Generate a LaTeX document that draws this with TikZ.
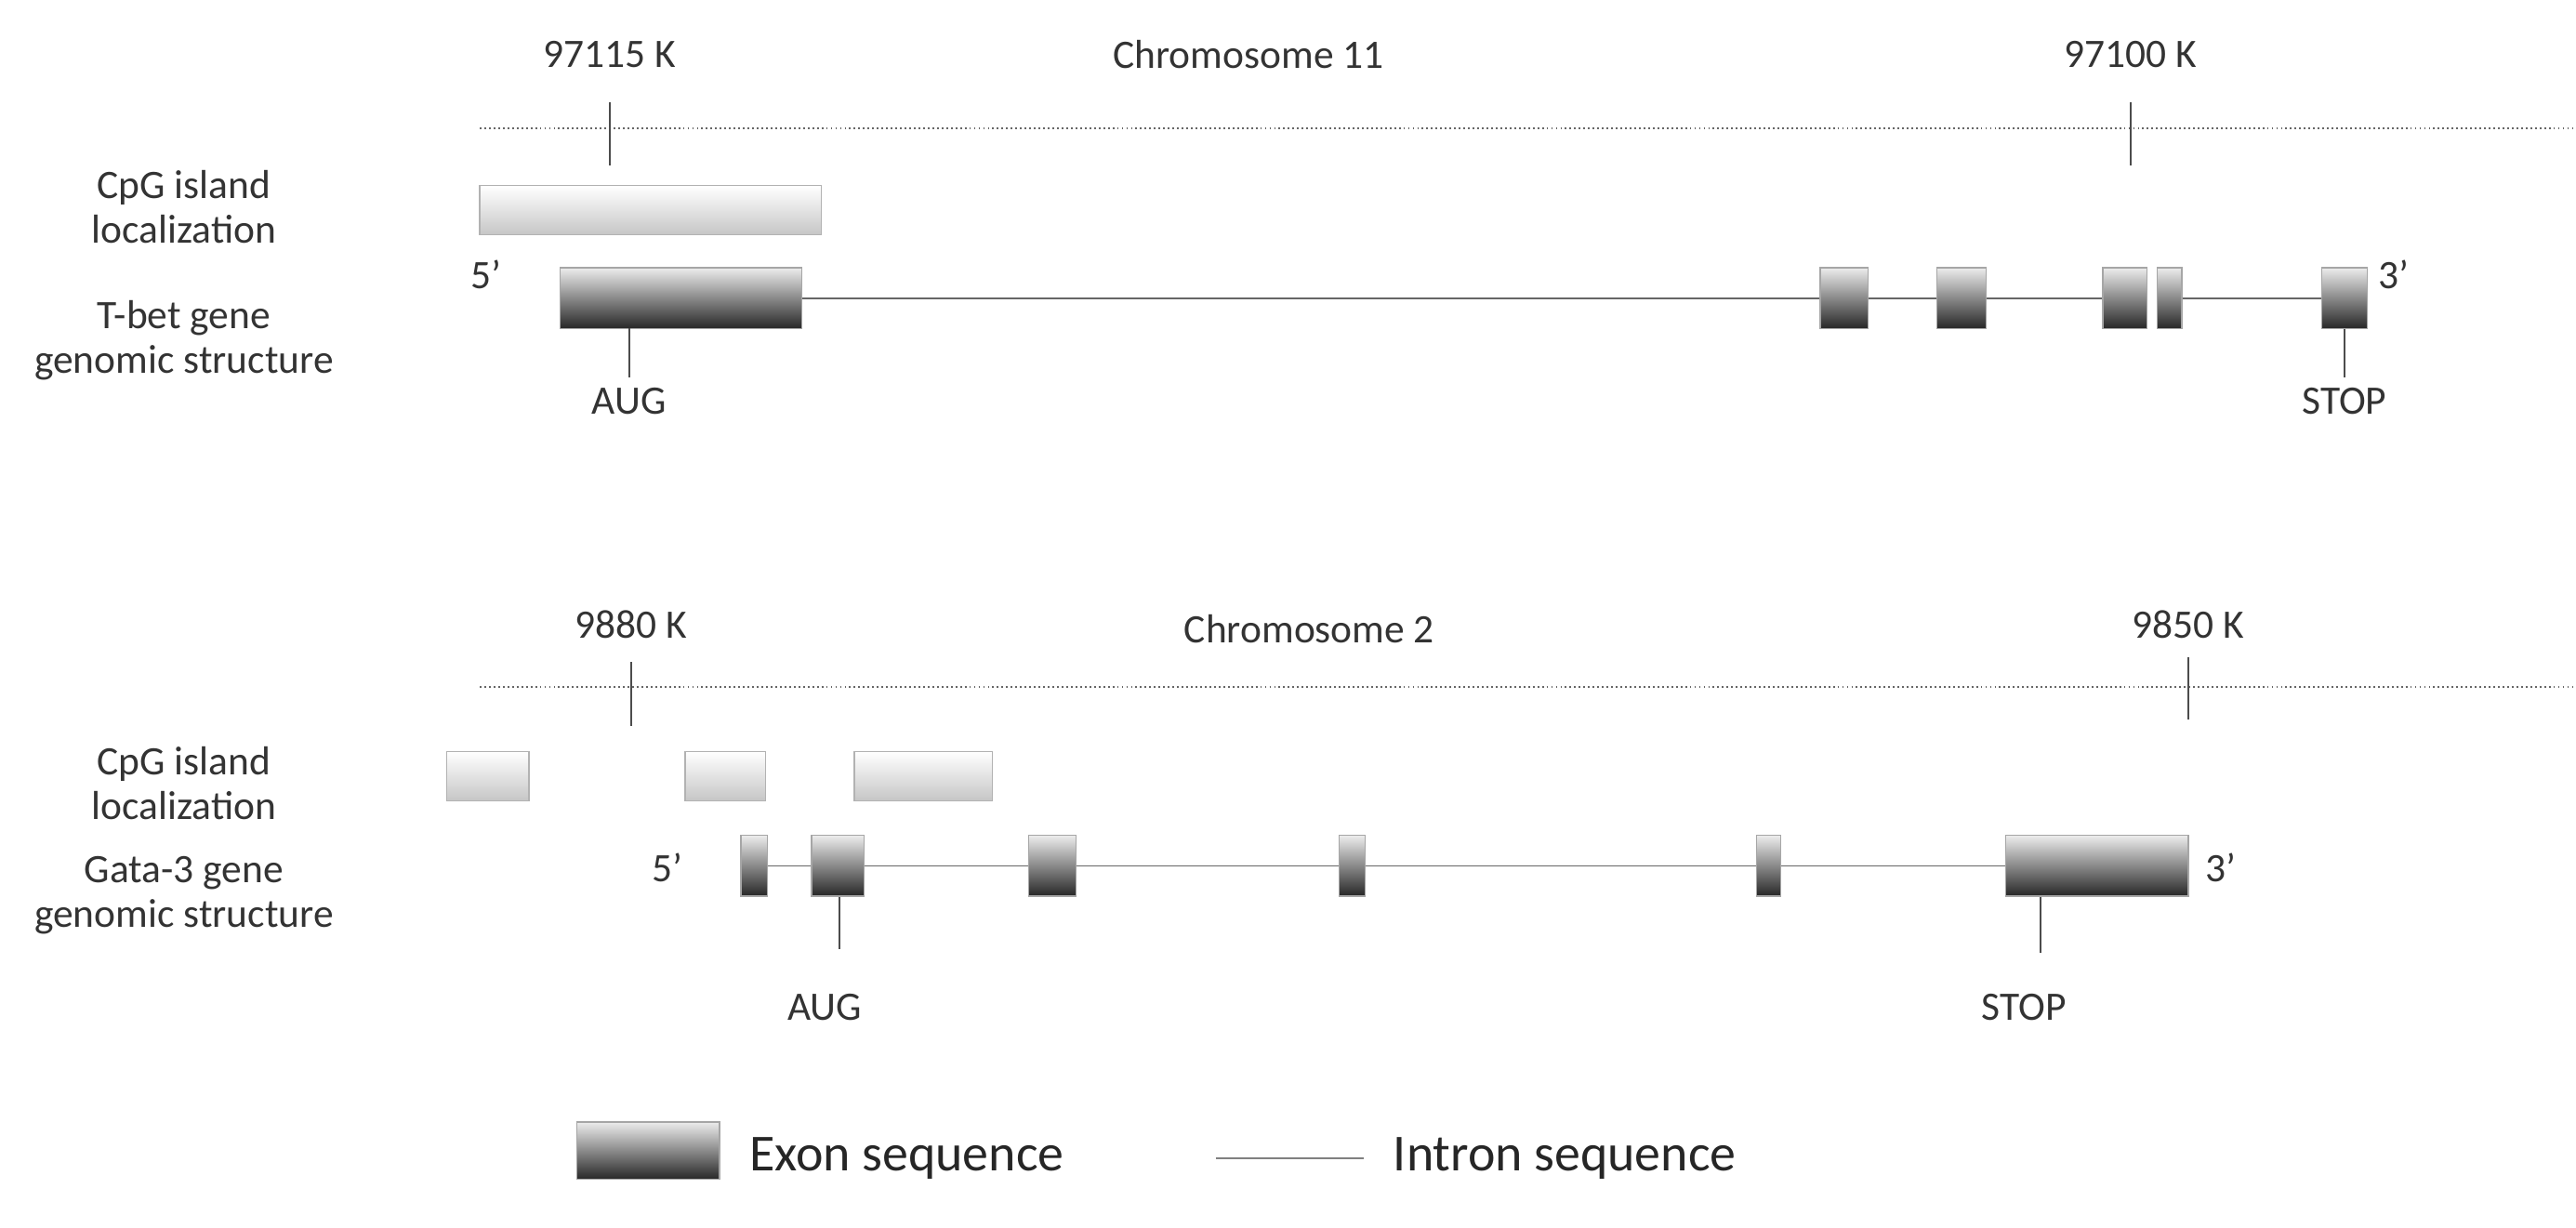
\documentclass[tikz,border=0pt]{standalone}
\usepackage{fontspec}
\setmainfont{Carlito}
\tikzset{
  exon/.style={draw=gray!70, top color=gray!15, bottom color=black!85, inner sep=0pt, minimum height=0.74cm},
  cpg/.style={draw=gray!60, top color=white, bottom color=gray!45, inner sep=0pt, minimum height=0.6cm},
  intron/.style={gray!80!black, line width=0.5pt},
  chrom/.style={densely dotted, gray!80!black, line width=0.6pt},
  tick/.style={gray!60!black, line width=0.6pt},
  lbl/.style={font=\fontsize{14}{15.5}\selectfont, text=black!80},
  side/.style={lbl, align=center},
  big/.style={anchor=west, font=\fontsize{18}{20}\selectfont, text=black!85},
}
\begin{document}
\begin{tikzpicture}[x=0.02cm, y=-0.02cm]
        \useasboundingbox (0,0) rectangle (1568,747);

        % Chromosome 11
        \node[lbl] (k1) at (371,33) {97115 K};
        \node[lbl] (c11) at (760,33) {Chromosome 11};
        \node[lbl] (k2) at (1297,33) {97100 K};
        \coordinate (d1a) at (292,78);
        \coordinate (d1b) at (1568,78);
        \draw[chrom] (d1a) -- (d1b);
        \draw[tick] (371,62) -- (371,101);
        \draw[tick] (1297,62) -- (1297,101);

        \node[side] (cpg1) at (112,126) {CpG island\\localization};
        \node[side] (gen1) at (112,207) {T-bet gene\\genomic structure};

        \node[cpg, minimum width=4.16cm] (i1) at (396,128) {};

        % T-bet exons
        \node[lbl] (p5a) at (296,167) {5’};
        \node[exon, minimum width=2.94cm] (a1) at (414.5,181.5) {};
        \node[exon, minimum width=0.58cm] (a2) at (1122.5,181.5) {};
        \node[exon, minimum width=0.6cm] (a3) at (1194,181.5) {};
        \node[exon, minimum width=0.54cm] (a4) at (1293.5,181.5) {};
        \node[exon, minimum width=0.3cm] (a5) at (1320.5,181.5) {};
        \node[exon, minimum width=0.56cm] (a6) at (1427,181.5) {};
        \node[lbl] (p3a) at (1457,167) {3’};
        \draw[intron] (a1.east) -- (a2.west);
        \draw[intron] (a2.east) -- (a3.west);
        \draw[intron] (a3.east) -- (a4.west);
        \draw[intron] (a5.east) -- (a6.west);

        \node[lbl] (aug1) at (383,244) {AUG};
        \node[lbl] (stop1) at (1427,244) {STOP};
        \draw[tick] (383,200) -- (aug1.north);
        \draw[tick] (a6.south) -- (stop1.north);

        % Chromosome 2
        \node[lbl] (k3) at (384,380) {9880 K};
        \node[lbl] (c2) at (797,383) {Chromosome 2};
        \node[lbl] (k4) at (1332,380) {9850 K};
        \coordinate (d2a) at (292,418);
        \coordinate (d2b) at (1568,418);
        \draw[chrom] (d2a) -- (d2b);
        \draw[tick] (384,403) -- (384,442);
        \draw[tick] (1332,400) -- (1332,438);

        \node[side] (cpg2) at (112,477) {CpG island\\localization};
        \node[side] (gen2) at (112,545) {Gata-3 gene\\genomic structure};

        \node[cpg, minimum width=1cm] (i2) at (297,472.5) {};
        \node[cpg, minimum width=0.98cm] (i3) at (441.5,472.5) {};
        \node[cpg, minimum width=1.68cm] (i4) at (562,472.5) {};

        % Gata-3 exons
        \node[lbl] (p5b) at (406,528) {5’};
        \node[exon, minimum width=0.32cm] (b1) at (459,527) {};
        \node[exon, minimum width=0.64cm] (b2) at (510,527) {};
        \node[exon, minimum width=0.58cm] (b3) at (640.5,527) {};
        \node[exon, minimum width=0.32cm] (b4) at (823,527) {};
        \node[exon, minimum width=0.3cm] (b5) at (1076.5,527) {};
        \node[exon, minimum width=2.22cm] (b6) at (1276.5,527) {};
        \node[lbl] (p3b) at (1352,528) {3’};
        \draw[intron] (b1.east) -- (b2.west);
        \draw[intron] (b2.east) -- (b3.west);
        \draw[intron] (b3.east) -- (b4.west);
        \draw[intron] (b4.east) -- (b5.west);
        \draw[intron] (b5.east) -- (b6.west);

        \node[lbl] (aug2) at (502,613) {AUG};
        \node[lbl] (stop2) at (1232,613) {STOP};
        \draw[tick] (511,546) -- (511,578);
        \draw[tick] (1242,546) -- (1242,580);

        % Legend
        \node[exon, minimum width=1.74cm, minimum height=0.7cm] (lex) at (394.5,700.5) {};
        \node[big] (tex) at (450,705) {Exon sequence};
        \coordinate (lia) at (740,705);
        \coordinate (lib) at (830,705);
        \draw[intron, gray] (lia) -- (lib);
        \node[big] (tin) at (842,705) {Intron sequence};
    \end{tikzpicture}
\end{document}
